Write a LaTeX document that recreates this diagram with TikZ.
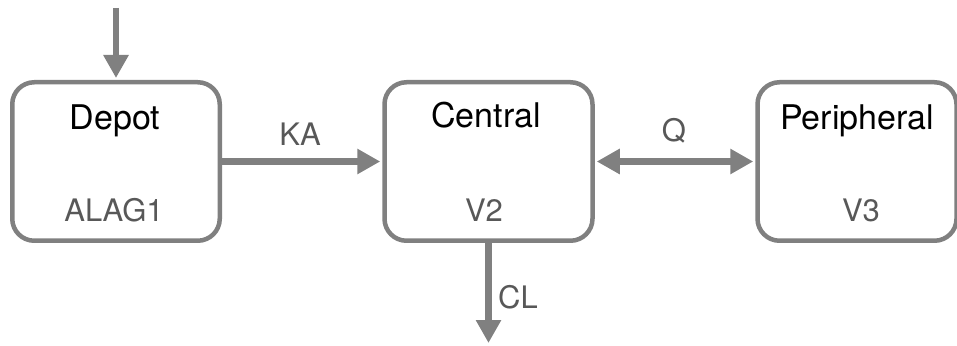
\documentclass[tikz,border=0pt]{standalone}
\usepackage{fontspec}
\setmainfont{TeX Gyre Heros}
\usetikzlibrary{arrows.meta}
\definecolor{linegray}{RGB}{128,128,128}
\definecolor{labgray}{RGB}{88,88,88}
\tikzset{
  comp/.style={draw=linegray, line width=4.5pt, rounded corners=22pt, fill=white,
    inner sep=0pt, minimum height=158.5pt},
  title/.style={anchor=base, text=black, font=\fontsize{34}{40}\selectfont},
  param/.style={anchor=base, text=labgray, font=\fontsize{31}{36}\selectfont},
  arr/.style={draw=linegray, line width=6.5pt, -{Triangle[length=23pt,width=24pt]}, shorten >=2pt},
  arrboth/.style={draw=linegray, line width=6.5pt, {Triangle[length=23pt,width=24pt]}-{Triangle[length=23pt,width=24pt]}, shorten >=2pt, shorten <=2pt},
}
\begin{document}
\begin{tikzpicture}[x=1pt,y=1pt]
\useasboundingbox (0,0) rectangle (957,345);
\node[comp, minimum width=207.5pt] (depot) at (116,183.5) {};
\node[comp, minimum width=208pt] (central) at (488.5,183.5) {};
\node[comp, minimum width=199pt] (periph) at (857,183.5) {};

\node[title] (tdepot) at (115,215) {Depot};
\node[param] (alag) at (114,123) {ALAG1};
\node[title] (tcentral) at (486,217) {Central};
\node[param] (v2) at (484,123) {V2};
\node[title] (tperiph) at (857,215) {Peripheral};
\node[param] (v3) at (861,123) {V3};

\coordinate (dose) at (116,337);
\coordinate (elim) at (488.5,2);
\draw[arr] (dose) -- (depot.north);
\draw[arr] (depot.east) -- (central.west);
\draw[arrboth] (central.east) -- (periph.west);
\draw[arr, shorten >=0pt] (central.south) -- (elim);

\node[param] (ka) at (300,199) {KA};
\node[param] (q) at (674,203) {Q};
\node[param] (cl) at (518,37) {CL};
\end{tikzpicture}
\end{document}
